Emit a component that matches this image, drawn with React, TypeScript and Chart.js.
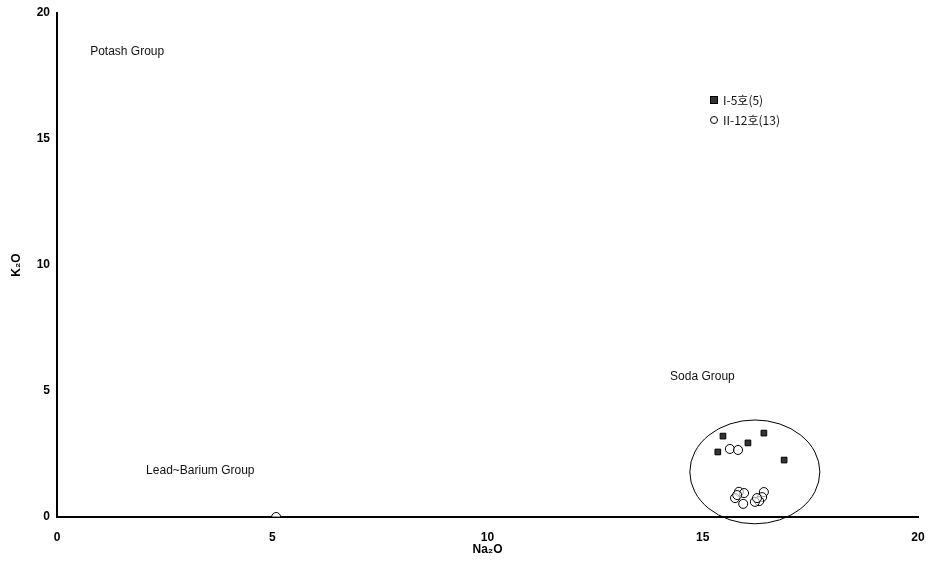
import React, { useEffect, useRef } from "react";
import { Chart, registerables } from "chart.js";

Chart.register(...registerables);

// Series I-5호 (squares)
const seriesAName = "I-5호(5)";
const seriesAx = [15.47, 16.42, 16.05, 15.35, 16.89];
const seriesAy = [3.21, 3.33, 2.94, 2.58, 2.26];

// Series II-12호 (open circles)
const seriesBName = "II-12호(13)";
const seriesBx = [15.63, 15.82, 15.84, 15.96, 15.75, 15.94, 15.8, 16.42, 16.38, 16.31, 16.21, 16.26, 5.09];
const seriesBy = [2.7, 2.66, 1.0, 0.95, 0.75, 0.52, 0.87, 0.99, 0.79, 0.63, 0.6, 0.75, 0.0];

const xTicks = [0, 5, 10, 15, 20];
const yTicks = [0, 5, 10, 15, 20];

// Group labels (data coordinates)
const groupLabels = ["Potash Group", "Soda Group", "Lead~Barium Group"];
const groupLabelX = [0.77, 14.24, 2.07];
const groupLabelY = [18.45, 5.56, 1.83];

// Soda group ellipse (data coordinates)
const ellipseCenter = [16.21, 1.79];
const ellipseRadii = [1.51, 2.06];

const FONT = "'Liberation Sans', Arial, sans-serif";

const overlayPlugin = {
  id: "overlay",
  afterDatasetsDraw(chart: any) {
    const { ctx, scales } = chart;
    const xs = scales.x;
    const ys = scales.y;
    ctx.save();
    // ellipse
    const cx = xs.getPixelForValue(ellipseCenter[0]);
    const cy = ys.getPixelForValue(ellipseCenter[1]);
    const rx = Math.abs(xs.getPixelForValue(ellipseCenter[0] + ellipseRadii[0]) - cx);
    const ry = Math.abs(ys.getPixelForValue(ellipseCenter[1] + ellipseRadii[1]) - cy);
    ctx.beginPath();
    ctx.ellipse(cx, cy, rx, ry, 0, 0, Math.PI * 2);
    ctx.strokeStyle = "#000";
    ctx.lineWidth = 1;
    ctx.stroke();
    // group labels
    ctx.fillStyle = "#111";
    ctx.font = `12px ${FONT}`;
    ctx.textAlign = "left";
    ctx.textBaseline = "middle";
    groupLabels.forEach((t, i) => {
      ctx.fillText(t, xs.getPixelForValue(groupLabelX[i]), ys.getPixelForValue(groupLabelY[i]));
    });
    // legend
    const lx = 714;
    const ly1 = 100;
    const ly2 = 120;
    ctx.fillStyle = "#333";
    ctx.fillRect(lx - 3.5, ly1 - 3.5, 7, 7);
    ctx.strokeStyle = "#000";
    ctx.strokeRect(lx - 3.5, ly1 - 3.5, 7, 7);
    ctx.beginPath();
    ctx.arc(lx, ly2, 3.5, 0, Math.PI * 2);
    ctx.fillStyle = "#fff";
    ctx.fill();
    ctx.stroke();
    ctx.fillStyle = "#111";
    ctx.font = `12px 'Noto Sans CJK KR', ${FONT}`;
    ctx.fillText(seriesAName, lx + 9, ly1);
    ctx.fillText(seriesBName, lx + 9, ly2);
    ctx.restore();
  },
};

export default function App() {
  const ref = useRef<HTMLCanvasElement | null>(null);
  useEffect(() => {
    if (!ref.current) return;
    const chart = new Chart(ref.current, {
      type: "scatter",
      data: {
        datasets: [
          {
            label: seriesAName,
            data: seriesAx.map((x, i) => ({ x, y: seriesAy[i] })),
            pointStyle: "rect",
            pointRadius: 4,
            backgroundColor: "#333",
            borderColor: "#000",
            borderWidth: 1,
          },
          {
            label: seriesBName,
            data: seriesBx.map((x, i) => ({ x, y: seriesBy[i] })),
            pointStyle: "circle",
            pointRadius: 4.5,
            backgroundColor: "rgba(255,255,255,0.6)",
            borderColor: "#000",
            borderWidth: 1,
          },
        ],
      },
      options: {
        animation: false,
        responsive: false,
        maintainAspectRatio: false,
        layout: { padding: { top: 13, right: 12, left: 0, bottom: 0 } },
        plugins: { legend: { display: false }, tooltip: { enabled: false } },
        scales: {
          x: {
            type: "linear",
            min: 0,
            max: 20,
            afterBuildTicks: (s: any) => {
              s.ticks = xTicks.map((v) => ({ value: v }));
            },
            afterFit: (s: any) => {
              s.height = 52;
              s.paddingRight = 0;
              s.paddingLeft = 0;
            },
            grid: { display: false, drawTicks: true, tickLength: 4, color: "#000" },
            border: { display: true, color: "#000", width: 2 },
            ticks: { color: "#000", font: { family: FONT, size: 12, weight: "bold" }, padding: 9 },
            title: { display: true, text: "Na₂O", color: "#000", font: { family: FONT, size: 12, weight: "bold" }, padding: { top: 2, bottom: 12 } },
          },
          y: {
            type: "linear",
            min: 0,
            max: 20,
            afterBuildTicks: (s: any) => {
              s.ticks = yTicks.map((v) => ({ value: v }));
            },
            afterFit: (s: any) => {
              s.width = 57;
              s.paddingTop = 0;
              s.paddingBottom = 0;
            },
            grid: { display: false, drawTicks: true, tickLength: 4, color: "#000" },
            border: { display: true, color: "#000", width: 2 },
            ticks: { color: "#000", font: { family: FONT, size: 12, weight: "bold" }, padding: 3 },
            title: { display: true, text: "K₂O", color: "#000", font: { family: FONT, size: 12, weight: "bold" }, padding: { top: 9, bottom: 0 } },
          },
        },
      },
      plugins: [overlayPlugin],
    });
    return () => chart.destroy();
  }, []);
  return (
    <div style={{ position: "fixed", left: 0, top: 0, width: 930, height: 569, background: "#fff" }}>
      <canvas ref={ref} width={930} height={569} style={{ width: 930, height: 569 }} />
    </div>
  );
}
